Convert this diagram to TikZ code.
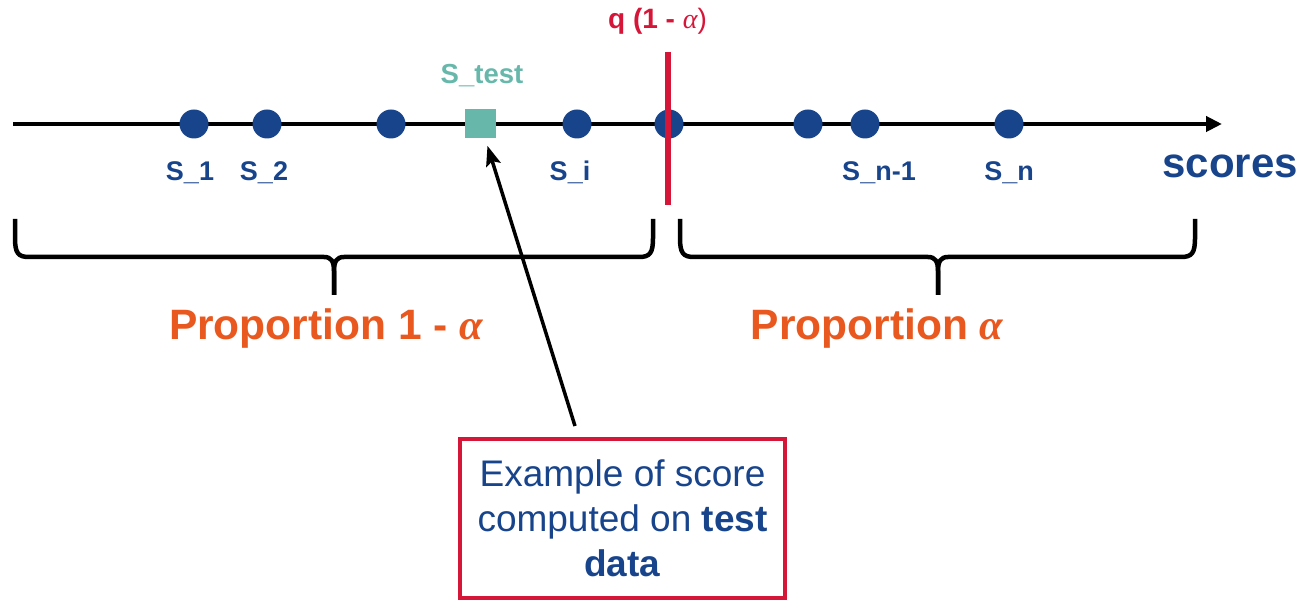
\documentclass[tikz,border=0pt]{standalone}
\usepackage{fontspec}
\setmainfont{Liberation Sans}
\newfontfamily\greekfont{Liberation Serif}
\usetikzlibrary{arrows.meta}

\definecolor{scoreblue}{RGB}{24,68,140}
\definecolor{quantred}{RGB}{214,22,56}
\definecolor{proporange}{RGB}{233,88,30}
\definecolor{testteal}{RGB}{103,184,171}

% italic alpha, in the weight of the surrounding text or in medium weight
\newcommand{\galpha}{{\greekfont\itshape α}}
\newcommand{\galphamd}{{\greekfont\itshape\mdseries α}}

\begin{document}
\begin{tikzpicture}[x=1pt,y=-1pt,
  scoredot/.style={circle, fill=scoreblue, inner sep=0pt, minimum size=29pt},
  testsq/.style={rectangle, fill=testteal, inner sep=0pt, minimum width=31pt, minimum height=29pt},
  slabel/.style={anchor=base, inner sep=0pt, text=scoreblue,
    font=\fontsize{27}{32}\selectfont\bfseries},
  axisline/.style={line width=4pt, -{Triangle[length=16pt,width=15pt]}},
  bracestyle/.style={line width=4.5pt, line join=round},
  proplabel/.style={anchor=base, inner sep=0pt, text=proporange,
    font=\fontsize{42.5}{50}\selectfont\bfseries},
  notebox/.style={draw=quantred, line width=4.5pt, fill=white,
    minimum width=325pt, minimum height=159pt, align=center, text=scoreblue,
    font=\fontsize{37}{45}\selectfont},
  pointer/.style={line width=3.5pt, -{Stealth[length=20pt,width=15pt,inset=4pt]}, shorten >=8pt}
]
\useasboundingbox (0,0) rectangle (1303,601);

% score axis
\coordinate (axstart) at (13,124);
\coordinate (axend) at (1222,124);
\draw[axisline] (axstart) -- (axend);
\node[anchor=base, inner sep=0pt, text=scoreblue,
  font=\fontsize{42}{50}\selectfont\bfseries] (axlabel) at (1230,178) {scores};

% calibration scores
\node[scoredot] (s1)  at (194,124) {};
\node[scoredot] (s2)  at (267,124) {};
\node[scoredot] (s3)  at (391,124) {};
\node[scoredot] (si)  at (577,124) {};
\node[scoredot] (sq)  at (669,124) {};
\node[scoredot] (s6)  at (808,124) {};
\node[scoredot] (sn1) at (865,124) {};
\node[scoredot] (sn)  at (1009,124) {};

\node[slabel] (l1)  at (190,181) {S\_1};
\node[slabel] (l2)  at (264,181) {S\_2};
\node[slabel] (li)  at (570,181) {S\_i};
\node[slabel] (ln1) at (879,181) {S\_n-1};
\node[slabel] (ln)  at (1009,181) {S\_n};

% test score
\node[testsq] (stest) at (480.5,123.5) {};
\node[anchor=base, inner sep=0pt, text=testteal,
  font=\fontsize{27.5}{32}\selectfont\bfseries] (stestlbl) at (482,84) {S\_test};

% quantile marker
\coordinate (qtop) at (667.5,52);
\coordinate (qbot) at (667.5,205);
\draw[quantred, line width=6pt] (qtop) -- (qbot);
\node[anchor=base, inner sep=0pt, text=quantred,
  font=\fontsize{28}{32}\selectfont\bfseries] (qlbl) at (657.5,29)
  {q (1 - \galphamd{\mdseries)}};

% left brace
\draw[bracestyle] (15,219) -- (15,238) .. controls (15,253) and (18,257) .. (29,257)
  -- (324,257) .. controls (331,257) and (334,261) .. (334,271) -- (334,295);
\draw[bracestyle] (653,219) -- (653,238) .. controls (653,253) and (650,257) .. (639,257)
  -- (344,257) .. controls (337,257) and (334,261) .. (334,271) -- (334,295);
% right brace
\draw[bracestyle] (680,219) -- (680,238) .. controls (680,253) and (683,257) .. (694,257)
  -- (928,257) .. controls (935,257) and (938,261) .. (938,271) -- (938,295);
\draw[bracestyle] (1195,219) -- (1195,238) .. controls (1195,253) and (1192,257) .. (1181,257)
  -- (948,257) .. controls (941,257) and (938,261) .. (938,271) -- (938,295);

\node[proplabel] (pleft)  at (326,340) {Proportion 1 - \galpha};
\node[proplabel] (pright) at (877,340) {Proportion \galpha};

% explanation box and its pointer
\node[notebox] (note) at (622.5,518.5)
  {Example of score\\computed on \textbf{test}\\\textbf{data}};
\coordinate (notefoot) at (575,426);
\draw[pointer] (notefoot) -- (stest);
\end{tikzpicture}
\end{document}
